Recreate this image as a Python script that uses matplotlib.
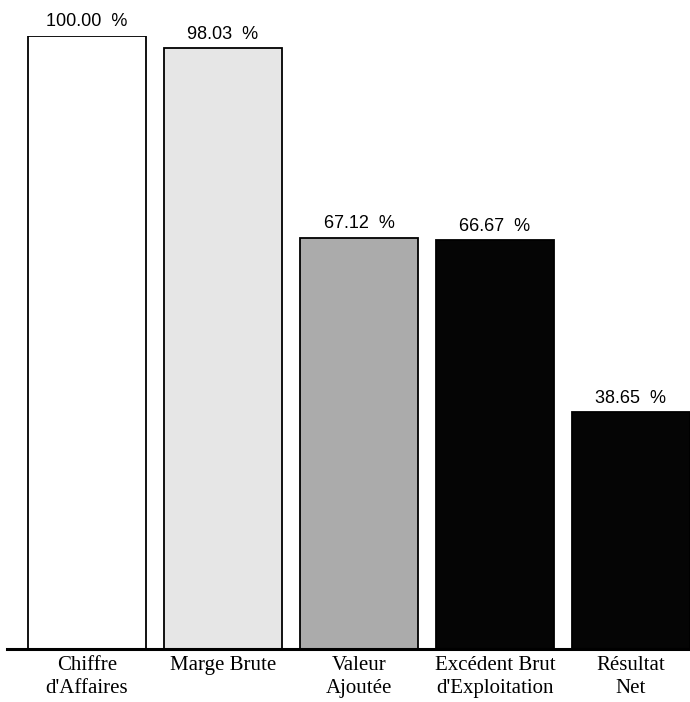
"""
Soldes intermediaires de gestion, en % du chiffre d'affaires.
Recreates a scanned bar chart.
"""

import matplotlib.pyplot as plt

# ============================================================================
# DATA
# ============================================================================

categories = ["Chiffre\nd'Affaires", "Marge Brute", "Valeur\nAjoutée",
              "Excédent Brut\nd'Exploitation", "Résultat\nNet"]
values = [100.00, 98.03, 67.12, 66.67, 38.65]
value_labels = ["100.00  %", "98.03  %", "67.12  %", "66.67  %", "38.65  %"]

bar_colors = ['#ffffff', '#e6e6e6', '#ababab', '#050505', '#050505']

# ============================================================================
# PLOT
# ============================================================================

fig = plt.figure(figsize=(6.9, 7.02), dpi=100)
ax = fig.add_axes([7 / 690, 53 / 702, 683 / 690, 613 / 702])

x = range(len(values))
ax.bar(x, values, width=0.87, color=bar_colors, edgecolor='black',
       linewidth=1.3, zorder=2)

# value labels above bars
for i, v in enumerate(values):
    ax.annotate(value_labels[i], (i, v), xytext=(0, 4), textcoords='offset points',
                ha='center', va='bottom', fontsize=13,
                family='Liberation Sans', annotation_clip=False)

ax.set_xlim(-0.588, 4.434)
ax.set_ylim(0, 100)

ax.set_xticks(list(x))
ax.set_xticklabels(categories, family='Liberation Serif', fontsize=15,
                   linespacing=1.3)
ax.tick_params(axis='x', length=0, pad=5)
ax.set_yticks([])

for side in ['top', 'right', 'left']:
    ax.spines[side].set_visible(False)
ax.spines['bottom'].set_linewidth(2.2)
ax.spines['bottom'].set_zorder(3)

fig.savefig('out.png', dpi=100)
plt.close(fig)
